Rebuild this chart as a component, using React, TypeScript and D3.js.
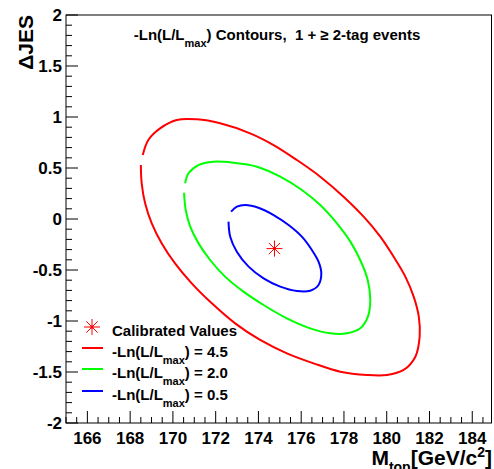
import React, { useEffect, useRef } from 'react';
import * as d3 from 'd3';

// -Ln(L/Lmax) contours, [M_top, dJES]
const contour45: [number, number][] = [
  [168.50, 0.529], [168.54, 0.350], [168.70, 0.154], [169.01, -0.042], [169.48, -0.239],
  [170.10, -0.435], [170.88, -0.631], [171.82, -0.827], [172.91, -1.023], [174.08, -1.186],
  [175.33, -1.317], [176.58, -1.415], [177.83, -1.497], [179.08, -1.529], [180.01, -1.529],
  [180.79, -1.480], [181.34, -1.350], [181.54, -1.154], [181.50, -0.957], [181.26, -0.761],
  [180.87, -0.565], [180.32, -0.369], [179.70, -0.173], [178.92, 0.023], [177.98, 0.219],
  [176.89, 0.415], [175.80, 0.578], [174.71, 0.725], [173.61, 0.840], [172.21, 0.938],
  [171.12, 0.977], [170.18, 0.971], [169.40, 0.889], [168.85, 0.775], [168.59, 0.627]
];
const contour20: [number, number][] = [
  [170.52, 0.258], [170.60, 0.088], [170.81, -0.075], [171.20, -0.239], [171.74, -0.402],
  [172.44, -0.565], [173.30, -0.712], [174.24, -0.843], [175.33, -0.974], [176.42, -1.072],
  [177.36, -1.121], [178.14, -1.121], [178.76, -1.072], [179.12, -0.957], [179.23, -0.794],
  [179.11, -0.598], [178.76, -0.402], [178.30, -0.222], [177.67, -0.042], [176.89, 0.137],
  [176.03, 0.284], [175.02, 0.415], [173.93, 0.513], [172.83, 0.552], [171.90, 0.562],
  [171.19, 0.529], [170.73, 0.448], [170.57, 0.350]
];
const contour05: [number, number][] = [
  [172.60, -0.026], [172.68, -0.173], [172.99, -0.320], [173.54, -0.467], [174.24, -0.582],
  [175.02, -0.663], [175.80, -0.706], [176.42, -0.703], [176.81, -0.647], [176.94, -0.533],
  [176.81, -0.418], [176.50, -0.304], [176.03, -0.173], [175.41, -0.059], [174.71, 0.039],
  [174.00, 0.111], [173.38, 0.137], [172.99, 0.121], [172.72, 0.072]
];
const calibrated: [number, number] = [174.75, -0.29];

const levels = ['4.5', '2.0', '0.5'];
const levelColors = ['#ff0000', '#00ff00', '#0000ff'];
const xTicks = [166, 168, 170, 172, 174, 176, 178, 180, 182, 184];
const yTicks = [-2, -1.5, -1, -0.5, 0, 0.5, 1, 1.5, 2];

const App = () => {
  const svgRef = useRef<SVGSVGElement>(null);

  useEffect(() => {
    const svg = d3.select(svgRef.current);
    svg.selectAll('*').remove();

    const W = 494, H = 469;
    const left = 66, right = 491.5, top = 15, bottom = 423;
    const font = 'Liberation Sans, Arial, Helvetica, sans-serif';

    svg.attr('width', W).attr('height', H);

    const x = d3.scaleLinear().domain([165, 184.9]).range([left, right]);
    const y = d3.scaleLinear().domain([-2, 2]).range([bottom, top]);

    svg.append('rect').attr('width', W).attr('height', H).attr('fill', '#fff');

    // contours
    const line = d3.line<[number, number]>()
      .x(d => x(d[0]))
      .y(d => y(d[1]))
      .curve(d3.curveCatmullRom);
    [contour45, contour20, contour05].forEach((c, i) => {
      svg.append('path')
        .attr('d', line(c))
        .attr('fill', 'none')
        .attr('stroke', levelColors[i])
        .attr('stroke-width', 2);
    });

    const star = (g: any, cx: number, cy: number, r: number) => {
      const s = g.append('g').attr('stroke', '#ff0000').attr('stroke-width', 1);
      for (let k = 0; k < 4; k++) {
        const a = (k * Math.PI) / 4;
        s.append('line')
          .attr('x1', cx - r * Math.cos(a)).attr('y1', cy - r * Math.sin(a))
          .attr('x2', cx + r * Math.cos(a)).attr('y2', cy + r * Math.sin(a));
      }
      g.append('circle').attr('cx', cx).attr('cy', cy).attr('r', 1.6).attr('fill', '#ff0000');
    };
    star(svg, x(calibrated[0]), y(calibrated[1]), 8);

    // frame
    svg.append('rect')
      .attr('x', left).attr('y', top)
      .attr('width', right - left).attr('height', bottom - top)
      .attr('fill', 'none').attr('stroke', '#000').attr('stroke-width', 1);

    // x ticks
    const xMinor = d3.range(165, 184.9, 0.5);
    svg.append('g').selectAll('line').data(xMinor).enter().append('line')
      .attr('x1', d => x(d)).attr('x2', d => x(d))
      .attr('y1', bottom).attr('y2', d => bottom - (xTicks.includes(d) ? 12 : 6))
      .attr('stroke', '#000').attr('stroke-width', 1);
    svg.append('g').selectAll('text').data(xTicks).enter().append('text')
      .attr('x', d => x(d)).attr('y', 444)
      .attr('text-anchor', 'middle')
      .attr('font-family', font).attr('font-weight', 'bold').attr('font-size', 17)
      .text(d => d);

    // y ticks
    const yMinor = d3.range(-20, 21, 1).map(d => d / 10);
    svg.append('g').selectAll('line').data(yMinor).enter().append('line')
      .attr('y1', d => y(d)).attr('y2', d => y(d))
      .attr('x1', left).attr('x2', d => left + (Math.abs(d * 2 - Math.round(d * 2)) < 1e-6 ? 12 : 6))
      .attr('stroke', '#000').attr('stroke-width', 1);
    svg.append('g').selectAll('text').data(yTicks).enter().append('text')
      .attr('x', 62).attr('y', d => y(d) + 6)
      .attr('text-anchor', 'end')
      .attr('font-family', font).attr('font-weight', 'bold').attr('font-size', 17)
      .text(d => d);

    // axis titles
    svg.append('text')
      .attr('transform', 'translate(33,15) rotate(-90)')
      .attr('text-anchor', 'end')
      .attr('font-family', font).attr('font-weight', 'bold').attr('font-size', 21)
      .text('\u0394JES');

    const xt = svg.append('text')
      .attr('x', 492).attr('y', 465)
      .attr('text-anchor', 'end')
      .attr('font-family', font).attr('font-weight', 'bold').attr('font-size', 21);
    xt.append('tspan').text('M');
    xt.append('tspan').attr('font-size', 14).attr('dy', 7).text('top');
    xt.append('tspan').attr('dy', -7).text('[GeV/c');
    xt.append('tspan').attr('font-size', 14).attr('dy', -8).text('2');
    xt.append('tspan').attr('dy', 8).text(']');

    // title
    const t = svg.append('text')
      .attr('x', 277).attr('y', 40)
      .attr('text-anchor', 'middle')
      .attr('font-family', font).attr('font-weight', 'bold').attr('font-size', 15)
      .style('white-space', 'pre');
    t.append('tspan').text('-Ln(L/L');
    t.append('tspan').attr('font-size', 11).attr('dy', 7).text('max');
    t.append('tspan').attr('dy', -7).text(') Contours,  1 + \u2265 2-tag events');

    // legend
    star(svg, 92, 327, 8);
    svg.append('text')
      .attr('x', 112).attr('y', 336)
      .attr('font-family', font).attr('font-weight', 'bold').attr('font-size', 15)
      .text('Calibrated Values');
    const rowY = [348, 369, 391];
    levels.forEach((lv, i) => {
      svg.append('line')
        .attr('x1', 82).attr('x2', 103)
        .attr('y1', rowY[i]).attr('y2', rowY[i])
        .attr('stroke', levelColors[i]).attr('stroke-width', 2);
      const lt = svg.append('text')
        .attr('x', 112).attr('y', rowY[i] + 9)
        .attr('font-family', font).attr('font-weight', 'bold').attr('font-size', 15);
      lt.append('tspan').text('-Ln(L/L');
      lt.append('tspan').attr('font-size', 11).attr('dy', 7).text('max');
      lt.append('tspan').attr('dy', -7).text(') = ' + lv);
    });
  }, []);

  return <svg ref={svgRef} style={{ position: 'absolute', left: 0, top: 0 }}></svg>;
};

export default App;
